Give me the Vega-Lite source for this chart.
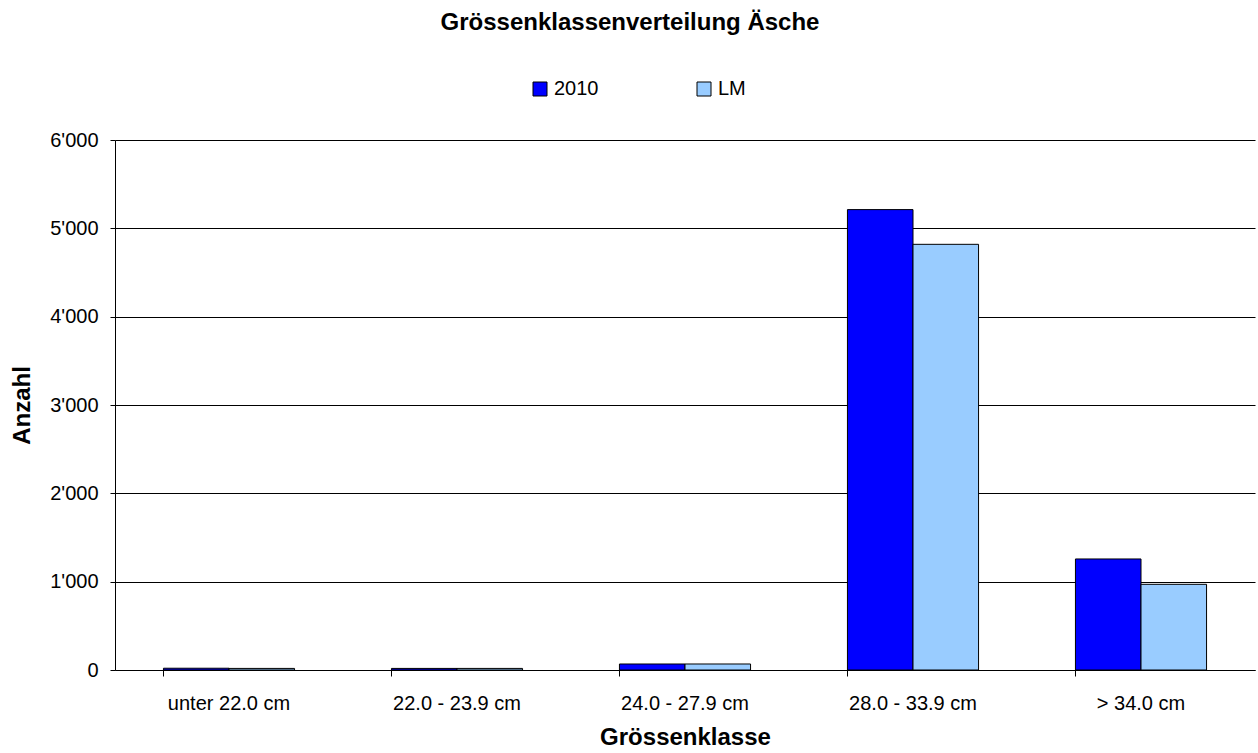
{
  "$schema": "https://vega.github.io/schema/vega-lite/v6.json",
  "autosize": "none",
  "width": 1140,
  "height": 530,
  "padding": {"left": 115, "top": 140, "right": 3, "bottom": 83},
  "background": "white",
  "title": {
    "text": "Grössenklassenverteilung Äsche",
    "font": "Liberation Sans",
    "fontSize": 24,
    "fontWeight": "bold",
    "color": "black",
    "anchor": "middle",
    "dx": -55,
    "offset": 44
  },
  "data": {
    "values": [
      {"klasse": "unter 22.0 cm", "serie": "2010", "anzahl": 20},
      {"klasse": "unter 22.0 cm", "serie": "LM", "anzahl": 18},
      {"klasse": "22.0 - 23.9 cm", "serie": "2010", "anzahl": 18},
      {"klasse": "22.0 - 23.9 cm", "serie": "LM", "anzahl": 18},
      {"klasse": "24.0 - 27.9 cm", "serie": "2010", "anzahl": 68},
      {"klasse": "24.0 - 27.9 cm", "serie": "LM", "anzahl": 68},
      {"klasse": "28.0 - 33.9 cm", "serie": "2010", "anzahl": 5212},
      {"klasse": "28.0 - 33.9 cm", "serie": "LM", "anzahl": 4819},
      {"klasse": "> 34.0 cm", "serie": "2010", "anzahl": 1257},
      {"klasse": "> 34.0 cm", "serie": "LM", "anzahl": 970}
    ]
  },
  "config": {
    "view": {"stroke": null},
    "font": "Liberation Sans"
  },
  "mark": {"type": "bar", "stroke": "black", "strokeWidth": 1},
  "encoding": {
    "x": {
      "field": "klasse",
      "type": "nominal",
      "sort": null,
      "scale": {"paddingInner": 0.425, "paddingOuter": 0.2125},
      "axis": {
        "title": "Grössenklasse",
        "titleFont": "Liberation Sans",
        "titleFontSize": 24,
        "titleFontWeight": "bold",
        "titleColor": "black",
        "titlePadding": 12,
        "labelAngle": 0,
        "labelFont": "Liberation Sans",
        "labelFontSize": 20,
        "labelColor": "black",
        "labelPadding": 17,
        "bandPosition": 0,
        "tickColor": "black",
        "tickSize": 6,
        "domainColor": "black",
        "grid": false
      }
    },
    "xOffset": {"field": "serie", "type": "nominal", "scale": {"paddingInner": 0, "paddingOuter": 0}},
    "y": {
      "field": "anzahl",
      "type": "quantitative",
      "scale": {"domain": [0, 6000], "nice": false},
      "axis": {
        "title": "Anzahl",
        "titleFont": "Liberation Sans",
        "titleFontSize": 24,
        "titleFontWeight": "bold",
        "titleColor": "black",
        "titlePadding": 15,
        "values": [0, 1000, 2000, 3000, 4000, 5000, 6000],
        "labelExpr": "replace(format(datum.value, ','), ',', \"'\")",
        "labelFont": "Liberation Sans",
        "labelFontSize": 20,
        "labelColor": "black",
        "labelPadding": 12,
        "tickColor": "black",
        "tickSize": 5,
        "domainColor": "black",
        "gridColor": "black",
        "gridWidth": 1
      }
    },
    "color": {
      "field": "serie",
      "type": "nominal",
      "scale": {"domain": ["2010", "LM"], "range": ["#0000FF", "#99CCFF"]},
      "legend": {
        "title": null,
        "orient": "none",
        "legendX": 415,
        "legendY": -61,
        "direction": "horizontal",
        "symbolType": "square",
        "symbolSize": 196,
        "symbolStrokeColor": "black",
        "symbolStrokeWidth": 1,
        "labelFont": "Liberation Sans",
        "labelFontSize": 20,
        "labelColor": "black",
        "labelOffset": 4,
        "columnPadding": 95
      }
    }
  }
}
